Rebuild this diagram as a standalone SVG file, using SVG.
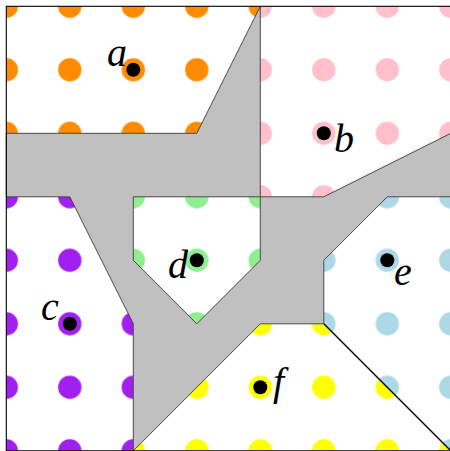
<svg xmlns="http://www.w3.org/2000/svg" width="450" height="451" viewBox="0 0 450 451">
  <style>
    .lbl { font-family: "Liberation Serif", "Times New Roman", serif; font-style: italic; font-size: 40px; fill: #000; }
    .site { fill: #000; }
    .gray { fill: #c0c0c0; stroke: #3a3a3a; stroke-width: 0.9; fill-rule: evenodd; stroke-linejoin: miter; }
  </style>
  <defs>
    <pattern id="pOrange" patternUnits="userSpaceOnUse" x="-25.45" y="-25.45" width="63.5" height="63.5"><circle cx="31.75" cy="31.75" r="11.7" fill="#ff8c00"/></pattern>
    <pattern id="pPink" patternUnits="userSpaceOnUse" x="-25.45" y="-25.45" width="63.5" height="63.5"><circle cx="31.75" cy="31.75" r="11.7" fill="#ffc0cb"/></pattern>
    <pattern id="pPurple" patternUnits="userSpaceOnUse" x="-25.45" y="-25.45" width="63.5" height="63.5"><circle cx="31.75" cy="31.75" r="11.7" fill="#a020f0"/></pattern>
    <pattern id="pGreen" patternUnits="userSpaceOnUse" x="-25.45" y="-25.45" width="63.5" height="63.5"><circle cx="31.75" cy="31.75" r="11.7" fill="#90ee90"/></pattern>
    <pattern id="pBlue" patternUnits="userSpaceOnUse" x="-25.45" y="-25.45" width="63.5" height="63.5"><circle cx="31.75" cy="31.75" r="11.7" fill="#add8e6"/></pattern>
    <pattern id="pYellow" patternUnits="userSpaceOnUse" x="-25.45" y="-25.45" width="63.5" height="63.5"><circle cx="31.75" cy="31.75" r="11.7" fill="#ffff00"/></pattern>
  </defs>
  <rect x="0" y="0" width="450" height="451" fill="#fff"/>
  <g id="regions">
    <polygon id="region-a" points="6.3,6.3 260.3,6.3 260.3,133.3 6.3,133.3" fill="url(#pOrange)"/>
    <polygon id="region-b" points="260.3,6.3 450.8,6.3 450.8,196.8 260.3,196.8" fill="url(#pPink)"/>
    <polygon id="region-c" points="6.3,196.8 133.3,196.8 133.3,450.8 6.3,450.8" fill="url(#pPurple)"/>
    <polygon id="region-d" points="133.3,196.8 260.3,196.8 260.3,323.8 133.3,323.8" fill="url(#pGreen)"/>
    <polygon id="region-e" points="323.8,196.8 450.8,196.8 450.8,450.8 323.8,323.8" fill="url(#pBlue)"/>
    <polygon id="region-f" points="133.3,323.8 323.8,323.8 450.8,450.8 133.3,450.8" fill="url(#pYellow)"/>
  </g>
  <g id="connectors">
    <path class="gray" d="M260.3,6.3 L260.3,196.8 L323.8,196.8 L450.8,133.3 L450.8,196.8 L387.3,196.8 L323.8,260.3 L323.8,323.8 L260.3,323.8 L133.3,450.8 L133.3,323.8 L69.8,196.8 L6.3,196.8 L6.3,133.3 L196.8,133.3 Z M133.3,196.8 L260.3,196.8 L260.3,260.3 L196.8,323.8 L133.3,260.3 Z"/>
    <line x1="323.8" y1="323.8" x2="450.8" y2="450.8" stroke="#000" stroke-width="1.4"/>
  </g>
  <rect id="frame" x="6.3" y="6.3" width="444.5" height="444.5" fill="none" stroke="#000" stroke-width="1.1"/>
  <g id="node-a"><circle class="site" cx="133.3" cy="69.8" r="7"/><text class="lbl" x="107" y="66">a</text></g>
  <g id="node-b"><circle class="site" cx="323.8" cy="133.3" r="7"/><text class="lbl" x="334" y="152">b</text></g>
  <g id="node-c"><circle class="site" cx="69.8" cy="323.8" r="7"/><text class="lbl" x="41" y="320">c</text></g>
  <g id="node-d"><circle class="site" cx="196.8" cy="260.3" r="7"/><text class="lbl" x="168" y="278">d</text></g>
  <g id="node-e"><circle class="site" cx="387.3" cy="260.3" r="7"/><text class="lbl" x="394" y="285">e</text></g>
  <g id="node-f"><circle class="site" cx="260.3" cy="387.3" r="7"/><text class="lbl" x="273" y="395">f</text></g>
</svg>
